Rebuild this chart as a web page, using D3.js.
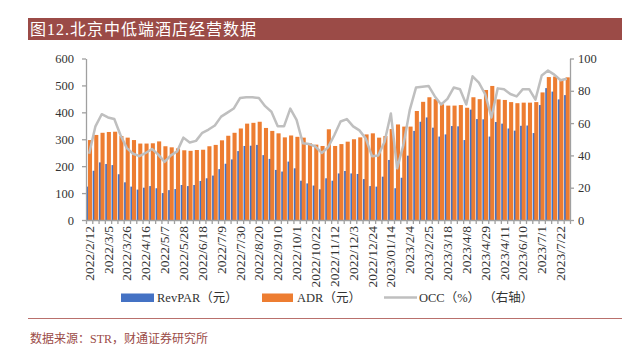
<!DOCTYPE html>
<html>
<head>
<meta charset="utf-8">
<script src="https://cdn.jsdelivr.net/npm/d3@7/dist/d3.min.js"></script>
<style>
    body { margin: 0; background: #fff; }
    svg text { font-family: "Liberation Serif", "Noto Sans CJK SC", serif; }
</style>
</head>
<body>
<div id="chart"></div>
<script>
// weekly data, 2022/2/12 - 2023/7/29
const weeks = [
    "2022/2/12","2022/2/19","2022/2/26","2022/3/5","2022/3/12","2022/3/19","2022/3/26",
    "2022/4/2","2022/4/9","2022/4/16","2022/4/23","2022/4/30","2022/5/7","2022/5/14",
    "2022/5/21","2022/5/28","2022/6/4","2022/6/11","2022/6/18","2022/6/25","2022/7/2",
    "2022/7/9","2022/7/16","2022/7/23","2022/7/30","2022/8/6","2022/8/13","2022/8/20",
    "2022/8/27","2022/9/3","2022/9/10","2022/9/17","2022/9/24","2022/10/1","2022/10/8",
    "2022/10/15","2022/10/22","2022/10/29","2022/11/5","2022/11/12","2022/11/19","2022/11/26",
    "2022/12/3","2022/12/10","2022/12/17","2022/12/24","2022/12/31","2023/1/7","2023/1/14",
    "2023/1/21","2023/1/28","2023/2/4","2023/2/11","2023/2/18","2023/2/25","2023/3/4",
    "2023/3/11","2023/3/18","2023/3/25","2023/4/1","2023/4/8","2023/4/15","2023/4/22",
    "2023/4/29","2023/5/6","2023/5/13","2023/5/20","2023/5/27","2023/6/3","2023/6/10",
    "2023/6/17","2023/6/24","2023/7/1","2023/7/8","2023/7/15","2023/7/22","2023/7/29"
];

// labels shown under every third week (as printed in the source)
const tickLabels = [
    "2022/2/12","2022/3/5","2022/3/26","2022/4/16","2022/5/7","2022/5/28","2022/6/18",
    "2022/7/9","2022/7/30","2022/8/20","2022/9/10","2022/10/1","2022/10/22","2022/11/12",
    "2022/12/3","2022/12/24","2023/01/14","2023/2/4","2023/2/25","2023/3/18","2023/4/8",
    "2023/4/29","2023/4/11","2023/6/10","2023/7/1","2023/7/22"
];

const revpar = [
    124,183,214,208,204,170,140,124,113,120,126,118,100,111,115,130,126,130,145,155,
    165,189,209,225,256,275,276,279,241,227,186,180,217,192,146,136,128,114,155,146,
    173,182,173,171,152,126,124,161,223,118,157,239,331,365,381,343,310,318,349,348,
    297,410,375,374,310,364,358,340,332,350,351,323,427,490,477,448,464
];

const adr = [
    297,316,324,327,328,312,306,297,284,284,285,292,274,270,266,259,257,260,261,274,
    279,296,313,324,340,358,361,365,342,331,322,307,314,309,306,285,280,275,337,275,
    282,291,300,307,318,322,306,312,338,355,347,347,405,439,456,449,430,425,425,427,
    417,456,449,483,498,448,446,438,434,436,436,438,474,531,533,520,530
];

const occ = [
    41,58,65.5,63.5,62.5,52.5,44.5,41,39.5,41.5,44,40.5,36,40,42.5,51,48,49,54,56,
    58.5,64,66.5,69,75.5,76,76,75.5,70.5,67,58,58,69,62,47.5,47,45.5,41.5,45,52.5,
    61,62.5,58,55.5,50.5,39.5,40,48.5,66,32,46.5,68,82,82.5,83,76.5,71.5,75,82,81,
    71.5,89,85,78,63.5,81.5,81,78,76.5,81,81,74.5,89.5,92.5,90,86.5,87.5
];

const leftTicks = [0, 100, 200, 300, 400, 500, 600];
const rightTicks = [0, 20, 40, 60, 80, 100];

class HotelChart {

    constructor(parentElement) {
        this.parentElement = parentElement;
        this.initVis();
    }

    initVis() {
        let vis = this;

        vis.width = 630;
        vis.height = 352;

        vis.svg = d3.select("#" + vis.parentElement).append("svg")
            .attr("width", vis.width)
            .attr("height", vis.height);

        // title bar
        vis.svg.append("rect")
            .attr("x", 28).attr("y", 18)
            .attr("width", 594).attr("height", 22)
            .attr("fill", "#9b4b47");
        vis.svg.append("text")
            .attr("x", 30).attr("y", 35)
            .attr("fill", "#fff")
            .attr("font-size", 16)
            .attr("letter-spacing", 1)
            .text("图12.北京中低端酒店经营数据");

        // scales
        vis.x = d3.scaleBand().domain(weeks).range([86, 570]);
        vis.xEdge = d3.scaleLinear().domain([0, weeks.length]).range([86, 570]);
        vis.yLeft = d3.scaleLinear().domain([0, 600]).range([220, 58.5]);
        vis.yRight = d3.scaleLinear().domain([0, 100]).range([220, 58.5]);

        vis.updateVis();
    }

    updateVis() {
        let vis = this;
        let bw = vis.x.bandwidth();
        let barW = bw * 0.65;

        // RevPAR (drawn first, orange overlaps it)
        vis.svg.append("g").selectAll("rect")
            .data(revpar)
            .enter().append("rect")
            .attr("x", (d, i) => vis.x(weeks[i]) + bw * 0.06)
            .attr("y", d => vis.yLeft(d))
            .attr("width", barW)
            .attr("height", d => vis.yLeft(0) - vis.yLeft(d))
            .attr("fill", "#4472c4");

        // ADR
        vis.svg.append("g").selectAll("rect")
            .data(adr)
            .enter().append("rect")
            .attr("x", (d, i) => vis.x(weeks[i]) + bw * 0.31)
            .attr("y", d => vis.yLeft(d))
            .attr("width", barW)
            .attr("height", d => vis.yLeft(0) - vis.yLeft(d))
            .attr("fill", "#ed7d31");

        // OCC line on right axis
        let line = d3.line()
            .x((d, i) => vis.x(weeks[i]) + bw / 2)
            .y(d => vis.yRight(d));
        vis.svg.append("path")
            .datum(occ)
            .attr("d", line)
            .attr("fill", "none")
            .attr("stroke", "#bfbfbf")
            .attr("stroke-width", 2.5)
            .attr("stroke-linejoin", "round");

        // axes
        let axisColor = "#a0a0a0";

        let gLeft = vis.svg.append("g")
            .attr("transform", "translate(86,0)")
            .call(d3.axisLeft(vis.yLeft).tickValues(leftTicks).tickSize(4).tickSizeOuter(0).tickPadding(8));
        let gRight = vis.svg.append("g")
            .attr("transform", "translate(570,0)")
            .call(d3.axisRight(vis.yRight).tickValues(rightTicks).tickSize(4).tickSizeOuter(0).tickPadding(4));
        let gBottom = vis.svg.append("g")
            .attr("transform", "translate(0,220)")
            .call(d3.axisBottom(vis.xEdge).tickValues(d3.range(weeks.length + 1))
                .tickFormat("").tickSize(4).tickSizeOuter(0));

        [gLeft, gRight, gBottom].forEach(g => {
            g.selectAll("path, line").attr("stroke", axisColor).attr("stroke-width", 1.3);
            g.selectAll("text")
                .attr("font-size", 12.5)
                .attr("fill", "#333")
                .style("font-family", '"Liberation Serif", serif');
        });

        // rotated date labels every 3rd week
        vis.svg.append("g").selectAll("text")
            .data(tickLabels)
            .enter().append("text")
            .attr("transform", (d, i) => `translate(${vis.x(weeks[i * 3]) + bw / 2 + 4.5},226) rotate(-90)`)
            .attr("text-anchor", "end")
            .attr("font-size", 13.5)
            .attr("fill", "#333")
            .text(d => d);

        vis.drawLegend();

        // footer
        vis.svg.append("line")
            .attr("x1", 28).attr("x2", 622)
            .attr("y1", 318.5).attr("y2", 318.5)
            .attr("stroke", "#b9706c")
            .attr("stroke-width", 1);
        vis.svg.append("text")
            .attr("x", 30).attr("y", 343)
            .attr("font-size", 12)
            .attr("fill", "#9b4b47")
            .text("数据来源：STR，财通证券研究所");
    }

    drawLegend() {
        let vis = this;
        let lg = vis.svg.append("g").attr("font-size", 12.5).attr("fill", "#333");

        lg.append("rect").attr("x", 121).attr("y", 293.5).attr("width", 33).attr("height", 8.5).attr("fill", "#4472c4");
        lg.append("text").attr("x", 157).attr("y", 302).text("RevPAR（元）");

        lg.append("rect").attr("x", 262).attr("y", 293.5).attr("width", 31).attr("height", 8.5).attr("fill", "#ed7d31");
        lg.append("text").attr("x", 297).attr("y", 302).text("ADR（元）");

        lg.append("line").attr("x1", 384).attr("x2", 417).attr("y1", 297.5).attr("y2", 297.5)
            .attr("stroke", "#bfbfbf").attr("stroke-width", 2.5);
        lg.append("text").attr("x", 419).attr("y", 302).attr("xml:space", "preserve").text("OCC（%） （右轴）");
    }
}

new HotelChart("chart");
</script>
</body>
</html>
